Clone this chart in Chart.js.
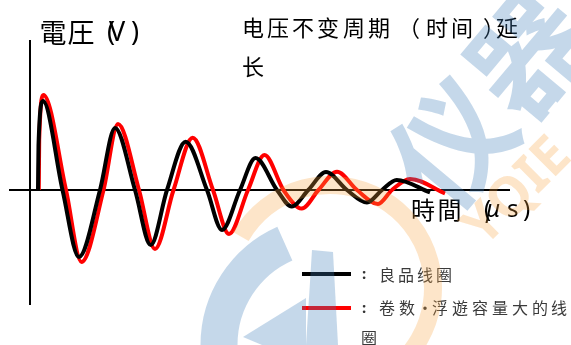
<!DOCTYPE html>
<html>
<head>
<meta charset="utf-8">
<script src="https://cdn.jsdelivr.net/npm/chart.js@4"></script>
<style>
  html, body { margin: 0; padding: 0; background: #fff; overflow: hidden; }
  canvas { display: block; }
</style>
</head>
<body>
<canvas id="c" width="571" height="345"></canvas>
<script>
// Damped ringing waveforms (time in µs, voltage in arbitrary units)
// Good coil
const goodTime = [0.8, 0.85, 1.3, 3.25, 4.9, 7.0, 8.5, 10.5, 12.07, 13.7, 15.57, 17.7, 19.2, 21.0,
                  22.55, 24.7, 26.17, 27.83, 29.6, 31.7, 33.7, 35.2, 36.67, 40.0];
const goodVolt = [0, 4.5, 8.9, 0, -6.7, 0, 6.2, 0, -5.5, 0, 4.83, 0, -4.0, 0,
                  3.2, 0, -1.65, 0, 1.8, 0, -1.25, 0, 1.0, -0.25];
// Coil with more turns / larger stray capacitance: same voltage, longer period
const largeCapTime = [0.88, 0.92, 1.35, 3.6, 5.15, 7.35, 8.8, 10.9, 12.5, 14.35, 16.27, 18.3, 19.9, 21.8,
                      23.45, 25.35, 27.17, 28.85, 30.7, 32.7, 34.8, 36.2, 38.0, 41.5];
const largeCapVolt = [0, 5.0, 9.5, 0, -7.2, 0, 6.6, 0, -5.9, 0, 5.23, 0, -4.4, 0,
                      3.5, 0, -1.85, 0, 1.83, 0, -1.4, 0, 1.1, -0.35];

const yAxisName = '電圧';
const yAxisUnit = 'V';
const xAxisName = '時間';
const xAxisUnit = 'μs';
const noteText = '电压不变周期（时间）延长';
const legendLabels = ['良品线圈', '卷数·浮遊容量大的线圈'];
const seriesColors = ['#000000', '#ff0000'];

const toPoints = (xs, ys) => xs.map((x, i) => ({ x, y: ys[i] }));
const DEG = Math.PI / 180;

function drawChars(ctx, chars, xs, y, font, color) {
  ctx.font = font;
  ctx.fillStyle = color;
  ctx.textAlign = 'left';
  ctx.textBaseline = 'middle';
  [...chars].forEach((ch, i) => ctx.fillText(ch, xs[i], y));
}

const axesPlugin = {
  id: 'crossAxes',
  beforeDatasetsDraw(chart) {
    const { ctx, scales: { x, y } } = chart;
    const x0 = x.getPixelForValue(0);
    const y0 = y.getPixelForValue(0);
    ctx.save();
    ctx.strokeStyle = '#000';
    ctx.lineWidth = 2;
    ctx.beginPath();
    ctx.moveTo(x0, y.top);
    ctx.lineTo(x0, y.bottom);
    ctx.moveTo(x.left, y0);
    ctx.lineTo(x.right, y0);
    ctx.stroke();
    ctx.restore();
  }
};

const annotationPlugin = {
  id: 'annotations',
  afterDraw(chart) {
    const ctx = chart.ctx;
    ctx.save();

    // vertical axis title
    drawChars(ctx, yAxisName, [39.5, 67.5], 32.5, '27px "Noto Sans CJK JP"', '#000');
    ctx.font = '27px "Noto Sans"';
    ctx.fillText('(', 107, 33);
    ctx.fillText(yAxisUnit, 109, 33);
    ctx.fillText(')', 131, 33);

    // note about the longer period
    const line1 = [...noteText].slice(0, 11);
    const line2 = [...noteText].slice(11);
    drawChars(ctx, line1, [242, 267, 292, 317, 343, 368, 398, 426, 451, 483, 496], 28,
              '22px "Noto Sans CJK SC"', '#000');
    drawChars(ctx, line2, [242], 67, '22px "Noto Sans CJK SC"', '#000');

    // horizontal axis title
    drawChars(ctx, xAxisName, [411, 437.5], 209.5, '24px "Noto Sans CJK JP"', '#000');
    ctx.font = '24px "Noto Sans"';
    ctx.fillText('(', 484, 210);
    ctx.font = 'italic 24px "Noto Sans"';
    ctx.fillText(xAxisUnit[0], 486, 210);
    ctx.font = '24px "Noto Sans"';
    ctx.fillText(xAxisUnit[1], 507, 210);
    ctx.fillText(')', 523, 210);

    // legend
    const legendY = [274, 308];
    legendY.forEach((ly, i) => {
      ctx.strokeStyle = seriesColors[i];
      ctx.lineWidth = 4;
      ctx.beginPath();
      ctx.moveTo(302, ly);
      ctx.lineTo(351, ly);
      ctx.stroke();
      ctx.font = 'bold 15px "Noto Sans"';
      ctx.fillStyle = '#333';
      ctx.fillText(':', 362, ly + 1);
    });
    const lf = '16px "Noto Sans CJK SC"';
    drawChars(ctx, legendLabels[0], [379, 398, 417, 436], 275, lf, '#3a3a3a');
    const l2 = [...legendLabels[1]];
    drawChars(ctx, l2.slice(0, 10), [379, 399, 417, 432, 452, 472, 492, 512, 532, 551], 308, lf, '#3a3a3a');
    drawChars(ctx, l2.slice(10), [361], 338, lf, '#3a3a3a');

    // translucent logo watermark
    const blue = 'rgba(62,125,185,0.30)';
    const orange = 'rgba(248,162,62,0.28)';
    ctx.lineCap = 'butt';
    ctx.strokeStyle = orange;
    ctx.lineWidth = 18;
    ctx.beginPath();
    ctx.arc(330, 288, 103, -150 * DEG, 40 * DEG);
    ctx.stroke();

    ctx.strokeStyle = blue;
    ctx.lineWidth = 37;
    ctx.beginPath();
    ctx.arc(330, 345, 111, Math.PI, Math.PI + 66 * DEG);
    ctx.stroke();

    ctx.fillStyle = blue;
    ctx.beginPath();
    ctx.moveTo(312, 250); ctx.lineTo(333, 252); ctx.lineTo(338, 345); ctx.lineTo(306, 345);
    ctx.closePath(); ctx.fill();
    ctx.beginPath();
    ctx.moveTo(243, 337); ctx.lineTo(306, 298); ctx.lineTo(306, 345); ctx.lineTo(262, 345);
    ctx.closePath(); ctx.fill();

    ctx.save();
    ctx.translate(490, 98);
    ctx.rotate(-50 * DEG);
    ctx.font = 'bold 118px "Noto Sans CJK SC"';
    ctx.textAlign = 'center';
    ctx.textBaseline = 'middle';
    ctx.fillStyle = blue;
    ctx.fillText('仪器', 0, 0);
    ctx.restore();

    ctx.save();
    ctx.translate(484, 248);
    ctx.rotate(-45 * DEG);
    ctx.font = 'bold 54px "Noto Sans"';
    ctx.textAlign = 'left';
    ctx.textBaseline = 'alphabetic';
    ctx.fillStyle = orange;
    ctx.fillText('YQIE', 0, 0);
    ctx.restore();

    ctx.restore();
  }
};

new Chart(document.getElementById('c'), {
  type: 'line',
  data: {
    datasets: [
      {
        label: legendLabels[0],
        data: toPoints(goodTime, goodVolt),
        borderColor: seriesColors[0],
        borderWidth: 4,
        pointRadius: 0,
        fill: false,
        cubicInterpolationMode: 'monotone'
      },
      {
        label: legendLabels[1],
        data: toPoints(largeCapTime, largeCapVolt),
        borderColor: seriesColors[1],
        borderWidth: 4,
        pointRadius: 0,
        fill: false,
        cubicInterpolationMode: 'monotone'
      }
    ]
  },
  options: {
    responsive: false,
    devicePixelRatio: 1,
    animation: false,
    layout: { padding: { left: 9, right: 61, top: 40, bottom: 40 } },
    scales: {
      x: { type: 'linear', min: -2.1, max: 48, display: false },
      y: { type: 'linear', min: -11.5, max: 15, display: false }
    },
    plugins: {
      legend: { display: false },
      tooltip: { enabled: false }
    }
  },
  plugins: [axesPlugin, annotationPlugin]
});
</script>
</body>
</html>
